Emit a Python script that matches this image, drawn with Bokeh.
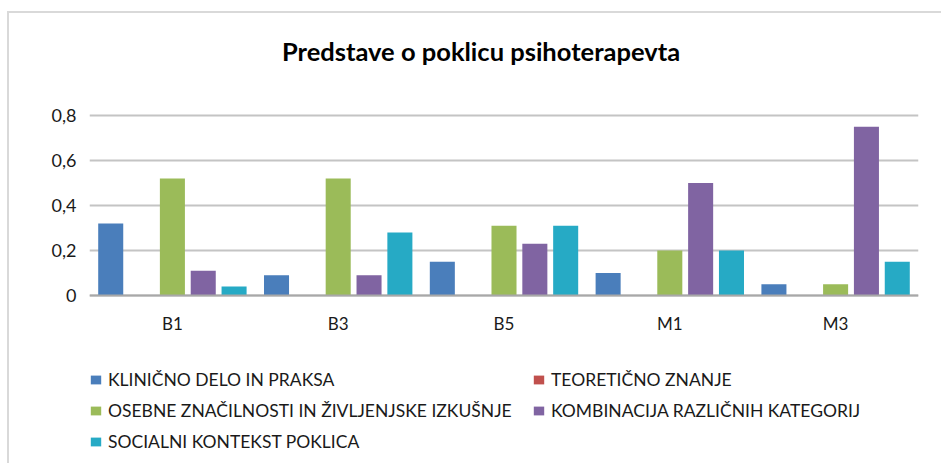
from bokeh.plotting import figure
from bokeh.models import (FactorRange, Range1d, FixedTicker, Legend, LegendItem,
                          ColumnDataSource, Label)
from bokeh.transform import dodge
from bokeh.embed import file_html
from bokeh.resources import INLINE

# ---- data ----
categories = ["B1", "B3", "B5", "M1", "M3"]
series_names = [
    "KLINIČNO DELO IN PRAKSA",
    "TEORETIČNO ZNANJE",
    "OSEBNE ZNAČILNOSTI IN ŽIVLJENJSKE IZKUŠNJE",
    "KOMBINACIJA RAZLIČNIH KATEGORIJ",
    "SOCIALNI KONTEKST POKLICA",
]
klinicno = [0.32, 0.09, 0.15, 0.10, 0.05]
teoreticno = [0.0, 0.0, 0.0, 0.0, 0.0]
osebne = [0.52, 0.52, 0.31, 0.20, 0.05]
kombinacija = [0.11, 0.09, 0.23, 0.50, 0.75]
socialni = [0.04, 0.28, 0.31, 0.20, 0.15]
y_ticks = [0, 0.2, 0.4, 0.6, 0.8]
y_tick_labels = ["0", "0,2", "0,4", "0,6", "0,8"]
title_text = "Predstave o poklicu psihoterapevta"

colors = ["#4A7EBB", "#C0504D", "#9BBB59", "#8064A2", "#26AAC5"]

FONT = "Lato"
TEXT = "#1a1a1a"

source = ColumnDataSource(dict(cat=categories,
                               s0=klinicno, s1=teoreticno, s2=osebne,
                               s3=kombinacija, s4=socialni))

# The plotting frame spans the whole canvas height so that the title and the
# legend (drawn inside the frame) are not clipped; the value axis shows 0..0.8.
p = figure(
    x_range=FactorRange(*categories, range_padding=0),
    y_range=Range1d(-0.7556, 1.2533),
    width=934, height=452,
    min_border_left=80, min_border_right=25,
    min_border_top=0, min_border_bottom=0,
    output_backend="svg", toolbar_location=None,
    background_fill_color="white", border_fill_color="white",
    title=None,
)
p.outline_line_color = None
p.styles = {"border-top": "2px solid #d9d9d9", "border-left": "2px solid #d9d9d9",
            "margin-top": "11px", "margin-left": "7px"}

slot = 0.186
offsets = [(i - 2) * slot for i in range(5)]
renderers = []
for i, col in enumerate(colors):
    r = p.vbar(x=dodge("cat", offsets[i], range=p.x_range), top=f"s{i}",
               width=0.151, source=source, fill_color=col, line_color=None)
    renderers.append(r)

# axes
p.yaxis.ticker = FixedTicker(ticks=y_ticks)
p.yaxis.major_label_overrides = dict(zip(y_ticks, y_tick_labels))
p.yaxis.axis_line_color = None
p.yaxis.major_tick_line_color = None
p.yaxis.minor_tick_line_color = None
p.yaxis.major_label_standoff = 7
p.yaxis.major_label_text_font = FONT
p.yaxis.major_label_text_font_size = "18px"
p.yaxis.major_label_text_color = TEXT

p.xaxis.fixed_location = 0
p.xaxis.axis_line_color = "#a8a8a8"
p.xaxis.axis_line_width = 2
p.xaxis.major_tick_line_color = None
p.xaxis.minor_tick_line_color = None
p.xaxis.major_label_standoff = 12
p.xaxis.major_label_text_font = FONT
p.xaxis.major_label_text_font_size = "17px"
p.xaxis.major_label_text_color = TEXT

p.xgrid.grid_line_color = None
p.ygrid.grid_line_color = "#c4c4c4"
p.ygrid.grid_line_width = 1.8

# title (screen units measured from the frame's bottom-left corner)
p.add_layout(Label(x=391.5, y=415, x_units="screen", y_units="screen",
                   text=title_text, text_align="center", text_baseline="alphabetic",
                   text_font=FONT, text_font_style="bold", text_font_size="25.5px",
                   text_color="#000000"))

# legend: 3 rows filled column by column -> row-major visual order of the reference
items = [LegendItem(label=n, renderers=[r]) for n, r in zip(series_names, renderers)]
legend_order = [0, 2, 4, 1, 3]
legend = Legend(
    items=[items[i] for i in legend_order],
    location=(0, 13), orientation="vertical", nrows=3,
    glyph_width=13, glyph_height=11, label_standoff=6, spacing=10,
    padding=0, margin=0, border_line_color=None, background_fill_alpha=0,
    label_text_font=FONT, label_text_font_size="17.5px", label_text_color=TEXT,
    label_height=20, label_width=414,
)
p.add_layout(legend, "center")

open("out.html", "w").write(file_html(p, INLINE))
